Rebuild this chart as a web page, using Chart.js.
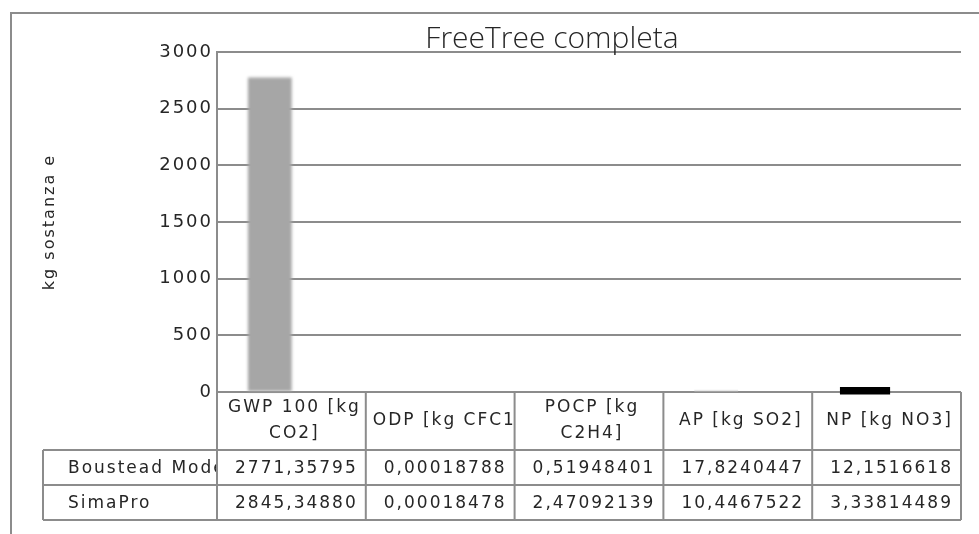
<!DOCTYPE html>
<html lang="it">
<head>
  <meta charset="UTF-8" />
  <title>FreeTree completa</title>
  <script src="https://cdn.jsdelivr.net/npm/chart.js"></script>
  <style>
    body { margin: 0; background: #fff; }
    canvas { display: block; }
  </style>
</head>
<body>
  <canvas id="chart" width="979" height="534"></canvas>

  <script>
    // Dati
    const categories = [['GWP 100 [kg', 'CO2]'], ['ODP [kg CFC11]'], ['POCP [kg', 'C2H4]'], ['AP [kg SO2]'], ['NP [kg NO3]']];
    const seriesNames = ['Boustead Model', 'SimaPro'];
    const boustead = [2771.35795, 0.00018788, 0.51948401, 17.8240447, 12.1516618];
    const simaPro = [2845.34880, 0.00018478, 2.47092139, 10.4467522, 3.33814489];
    const yTicks = [0, 500, 1000, 1500, 2000, 2500, 3000];

    const LINE = '#8c8c8c';
    const TEXT = '#262626';
    const FONT = 'DejaVu Sans';

    // bar colours as seen in the picture
    const bousteadColors = ['#a6a6a6', 'rgba(0,0,0,0)', 'rgba(0,0,0,0)', '#e9e9e9', '#000000'];

    function fmt(v) {
      let s = v.toPrecision(9);
      if (v < 1) s = s.replace(/0+$/, '');
      return s.replace('.', ',');
    }

    const framePlugin = {
      id: 'frame',
      beforeLayout(chart) { chart.ctx.letterSpacing = '2px'; },
      beforeDraw(chart) {
        const ctx = chart.ctx;
        ctx.letterSpacing = '2px';
        ctx.save();
        ctx.strokeStyle = LINE;
        ctx.lineWidth = 2;
        ctx.strokeRect(11, 13, 1000, 600);
        ctx.restore();
      },
      beforeDatasetDraw(chart, args) {
        if (args.index !== 0) return;
        const ctx = chart.ctx;
        args.meta.data.forEach((bar, i) => {
          ctx.save();
          if (i === 0) ctx.filter = 'blur(1.6px)';
          bar.draw(ctx, chart.chartArea);
          ctx.restore();
        });
        return false;
      },
      afterDraw(chart) {
        const ctx = chart.ctx;
        const x = chart.scales.x;
        const area = chart.chartArea;
        const half = (x.getPixelForValue(1) - x.getPixelForValue(0)) / 2;
        const top = area.bottom;
        const headBottom = top + 58;
        const rowH = 35;
        const labelLeft = 43;

        ctx.save();
        // title
        ctx.letterSpacing = '0px';
        ctx.fillStyle = TEXT;
        ctx.font = '300 30px "Open Sans"';
        ctx.textAlign = 'center';
        ctx.textBaseline = 'alphabetic';
        ctx.fillText('FreeTree completa', 552, 48);

        // data table
        ctx.strokeStyle = LINE;
        ctx.lineWidth = 2;
        const rows = [boustead, simaPro];
        const bottom = headBottom + rowH * rows.length;
        ctx.beginPath();
        ctx.moveTo(x.getPixelForValue(0) - half, top);
        ctx.lineTo(x.getPixelForValue(0) - half, bottom);
        categories.forEach((c, i) => {
          const r = x.getPixelForValue(i) + half;
          ctx.moveTo(r, top);
          ctx.lineTo(r, bottom);
        });
        ctx.moveTo(labelLeft, headBottom);
        ctx.lineTo(labelLeft, bottom);
        for (let k = 0; k <= rows.length; k++) {
          const y = headBottom + rowH * k;
          ctx.moveTo(labelLeft, y);
          ctx.lineTo(area.right, y);
        }
        ctx.stroke();

        ctx.letterSpacing = '2px';
        ctx.font = '17px "' + FONT + '"';
        ctx.fillStyle = TEXT;
        ctx.textBaseline = 'middle';

        // header cells
        categories.forEach((lines, i) => {
          const cx = x.getPixelForValue(i);
          const y0 = (top + headBottom) / 2 - (lines.length - 1) * 13;
          lines.forEach((t, j) => {
            const w = ctx.measureText(t).width;
            ctx.save();
            ctx.beginPath();
            ctx.rect(cx - half + 2, top, half * 2 - 4 + (i === 0 ? 10 : 0), headBottom - top);
            ctx.clip();
            if (w > half * 2 - 8) {
              ctx.textAlign = 'left';
              ctx.fillText(t, cx - half + 7, y0 + j * 26);
            } else {
              ctx.textAlign = 'center';
              ctx.fillText(t, cx + 3, y0 + j * 26);
            }
            ctx.restore();
          });
        });

        // value rows
        rows.forEach((vals, k) => {
          const yc = headBottom + rowH * k + rowH / 2 + 1;
          ctx.save();
          ctx.beginPath();
          ctx.rect(labelLeft, yc - rowH / 2, area.left - labelLeft - 1, rowH);
          ctx.clip();
          ctx.textAlign = 'left';
          ctx.fillText(seriesNames[k], labelLeft + 25, yc);
          ctx.restore();
          vals.forEach((v, i) => {
            const l = x.getPixelForValue(i) - half;
            ctx.save();
            ctx.beginPath();
            ctx.rect(l + 2, yc - rowH / 2, half * 2 - 5, rowH);
            ctx.clip();
            ctx.textAlign = 'left';
            ctx.fillText(fmt(v), l + 18, yc);
            ctx.restore();
          });
        });
        ctx.restore();
      }
    };

    new Chart(document.getElementById('chart'), {
      type: 'bar',
      data: {
        labels: categories,
        datasets: [{
          label: seriesNames[0],
          data: boustead,
          backgroundColor: bousteadColors,
          borderWidth: 0,
          inflateAmount: (c) => c.dataIndex === 4 ? 3.5 : 0.33,
          categoryPercentage: 0.58,
          barPercentage: 1
        }, {
          label: seriesNames[1],
          data: simaPro,
          backgroundColor: 'rgba(0,0,0,0)',
          borderWidth: 0,
          categoryPercentage: 0.58,
          barPercentage: 1
        }]
      },
      options: {
        responsive: false,
        animation: false,
        layout: { padding: { left: 30, right: 18, top: 52, bottom: 142 } },
        plugins: {
          legend: { display: false },
          title: { display: false },
          tooltip: { enabled: false }
        },
        scales: {
          x: { display: false },
          y: {
            z: 1,
            min: yTicks[0],
            max: yTicks[yTicks.length - 1],
            afterFit(scale) { scale.width = 187; },
            afterBuildTicks(scale) { scale.ticks = yTicks.map(v => ({ value: v })); },
            ticks: {
              color: TEXT,
              padding: 4,
              font: { family: FONT, size: 18 },
              callback: (v) => String(v)
            },
            grid: { color: LINE, lineWidth: 2, drawTicks: false, tickLength: 0 },
            border: { display: true, color: LINE, width: 2 },
            title: {
              display: true,
              text: 'kg sostanza e',
              color: TEXT,
              padding: { top: 10, bottom: 0 },
              font: { family: FONT, size: 16 }
            }
          }
        }
      },
      plugins: [framePlugin]
    });
  </script>
</body>
</html>
